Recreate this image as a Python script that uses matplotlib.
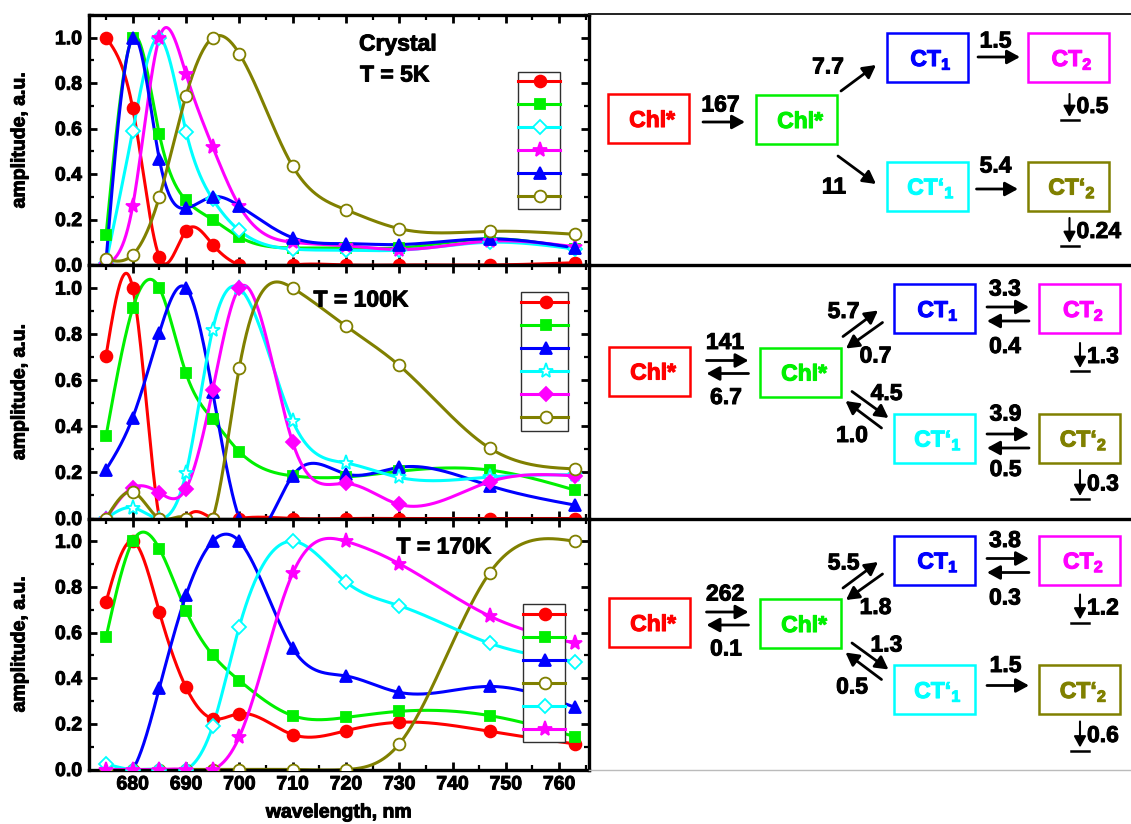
import numpy as np
import matplotlib
matplotlib.use("Agg")
import matplotlib.pyplot as plt
import matplotlib.patheffects as pe
from matplotlib.patches import Rectangle
from matplotlib.ticker import MultipleLocator

plt.rcParams['font.family'] = ['Liberation Sans', 'DejaVu Sans']
plt.rcParams['font.weight'] = 'bold'
plt.rcParams['mathtext.fontset'] = 'custom'
plt.rcParams['mathtext.rm'] = 'Liberation Sans:bold'
plt.rcParams['mathtext.bf'] = 'Liberation Sans:bold'
plt.rcParams['mathtext.it'] = 'Liberation Sans:bold'

# ---------------- data ----------------
wavelength = [675, 680, 685, 690, 695, 700, 710, 720, 730, 747, 763]

# T = 5K (crystal)
red_5K = [1.0, 0.69, 0.035, 0.15, 0.09, 0.0, 0.0, 0.0, 0.0, 0.0, 0.01]
green_5K = [0.13, 1.0, 0.575, 0.285, 0.2, 0.123, 0.075, 0.075, 0.075, 0.115, 0.07]
cyan_5K = [0.01, 0.59, 1.0, 0.587, 0.29, 0.152, 0.07, 0.065, 0.065, 0.10, 0.07]
magenta_5K = [0.0, 0.26, 1.0, 0.84, 0.52, 0.26, 0.10, 0.085, 0.068, 0.105, 0.08]
blue_5K = [0.02, 1.0, 0.465, 0.25, 0.30, 0.26, 0.12, 0.094, 0.09, 0.115, 0.075]
olive_5K = [0.025, 0.045, 0.30, 0.745, 1.0, 0.93, 0.435, 0.243, 0.16, 0.148, 0.135]

# T = 100K
red_100K = [0.707, 1.0, 0.0, 0.0, 0.0, 0.0, 0.0, 0.0, 0.0, 0.0, 0.0]
green_100K = [0.358, 0.912, 1.0, 0.63, 0.43, 0.29, 0.185, 0.18, 0.205, 0.21, 0.123]
blue_100K = [0.212, 0.438, 0.806, 1.0, 0.55, 0.0, 0.185, 0.193, 0.222, 0.142, 0.058]
cyan_100K = [0.0, 0.047, 0.0, 0.197, 0.82, 1.0, 0.423, 0.241, 0.178, 0.18, 0.19]
magenta_100K = [0.0, 0.134, 0.112, 0.13, 0.557, 1.0, 0.331, 0.152, 0.061, 0.16, 0.185]
olive_100K = [0.0, 0.115, 0.0, 0.0, 0.0, 0.655, 1.0, 0.835, 0.664, 0.305, 0.215]

# T = 170K
red_170K = [0.735, 1.0, 0.69, 0.36, 0.223, 0.245, 0.153, 0.17, 0.207, 0.167, 0.112]
green_170K = [0.58, 1.0, 0.968, 0.696, 0.502, 0.39, 0.236, 0.228, 0.255, 0.236, 0.144]
blue_170K = [0.0, 0.0, 0.357, 0.764, 1.0, 1.0, 0.531, 0.41, 0.338, 0.364, 0.272]
olive_170K = [0.0, 0.0, 0.0, 0.0, 0.0, 0.0, 0.0, 0.0, 0.112, 0.863, 1.0]
cyan_170K = [0.025, 0.0, 0.0, 0.0, 0.19, 0.626, 1.0, 0.822, 0.718, 0.553, 0.473]
magenta_170K = [0.0, 0.0, 0.0, 0.0, 0.0, 0.143, 0.859, 1.0, 0.902, 0.672, 0.553]

panel_titles = ["Crystal\nT = 5K", "T = 100K", "T = 170K"]
x_ticks = [680, 690, 700, 710, 720, 730, 740, 750, 760]
y_ticks = [0.0, 0.2, 0.4, 0.6, 0.8, 1.0]

# kinetic scheme rate constants
rates_5K = {"fwd": "167", "up": "7.7", "down": "11", "ct": "1.5", "ctp": "5.4",
            "dec": "0.5", "decp": "0.24"}
rates_100K = {"fwd": "141", "back": "6.7", "up": "5.7", "upb": "0.7", "down": "4.5",
              "downb": "1.0", "ct": "3.3", "ctb": "0.4", "ctp": "3.9", "ctpb": "0.5",
              "dec": "1.3", "decp": "0.3"}
rates_170K = {"fwd": "262", "back": "0.1", "up": "5.5", "upb": "1.8", "down": "1.3",
              "downb": "0.5", "ct": "3.8", "ctb": "0.3", "ctp": "1.5",
              "dec": "1.2", "decp": "0.6"}

# ---------------- styles ----------------
RED, GREEN, BLUE = '#FF0000', '#00F000', '#0000FF'
CYAN, MAGENTA, OLIVE = '#00FFFF', '#FF00FF', '#808000'

sty = {
    'red': dict(color=RED, marker='o', mfc=RED, ms=8.5),
    'green': dict(color=GREEN, marker='s', mfc=GREEN, ms=7.5),
    'blue': dict(color=BLUE, marker='^', mfc=BLUE, ms=9),
    'cyan_D': dict(color=CYAN, marker='D', mfc='white', ms=7),
    'cyan_star': dict(color=CYAN, marker='*', mfc='white', ms=11),
    'magenta_star': dict(color=MAGENTA, marker='*', mfc=MAGENTA, ms=11),
    'magenta_D': dict(color=MAGENTA, marker='D', mfc=MAGENTA, ms=7),
    'olive': dict(color=OLIVE, marker='o', mfc='white', ms=8.5),
}

panels = [
    [(red_5K, 'red'), (green_5K, 'green'), (cyan_5K, 'cyan_D'),
     (magenta_5K, 'magenta_star'), (blue_5K, 'blue'), (olive_5K, 'olive')],
    [(red_100K, 'red'), (green_100K, 'green'), (blue_100K, 'blue'),
     (cyan_100K, 'cyan_star'), (magenta_100K, 'magenta_D'), (olive_100K, 'olive')],
    [(red_170K, 'red'), (green_170K, 'green'), (blue_170K, 'blue'),
     (olive_170K, 'olive'), (cyan_170K, 'cyan_D'), (magenta_170K, 'magenta_star')],
]


def natural_spline(x, y, xs):
    x = np.asarray(x, float)
    y = np.asarray(y, float)
    n = len(x)
    h = np.diff(x)
    A = np.zeros((n, n))
    b = np.zeros(n)
    A[0, 0] = 1
    A[-1, -1] = 1
    for i in range(1, n - 1):
        A[i, i - 1] = h[i - 1]
        A[i, i] = 2 * (h[i - 1] + h[i])
        A[i, i + 1] = h[i]
        b[i] = 3 * ((y[i + 1] - y[i]) / h[i] - (y[i] - y[i - 1]) / h[i - 1])
    c = np.linalg.solve(A, b)
    bc = (y[1:] - y[:-1]) / h - h * (2 * c[:-1] + c[1:]) / 3
    d = (c[1:] - c[:-1]) / (3 * h)
    idx = np.clip(np.searchsorted(x, xs) - 1, 0, n - 2)
    dx = xs - x[idx]
    return y[idx] + bc[idx] * dx + c[idx] * dx ** 2 + d[idx] * dx ** 3


W, H = 1131, 824
fig = plt.figure(figsize=(W / 100, H / 100), dpi=100)

TK = 14      # tick label size
LAB = 14     # axis label size
heavy = [pe.withStroke(linewidth=0.7, foreground='black')]

rows_px = [(15, 265), (265, 518.5), (518.5, 769.5)]
L_px, R_px = 89, 589

xs = np.linspace(wavelength[0], wavelength[-1], 800)
for r, (top, bot) in enumerate(rows_px):
    ax = fig.add_axes([L_px / W, 1 - bot / H, (R_px - L_px) / W, (bot - top) / H])
    for vals, key in panels[r]:
        s = sty[key]
        ax.plot(xs, natural_spline(wavelength, vals, xs), color=s['color'], lw=2.2,
                zorder=2)
        ax.plot(wavelength, vals, ls='none', marker=s['marker'], ms=s['ms'],
                mfc=s['mfc'], mec=s['color'], mew=1.3, zorder=3)
    ax.set_xlim(671.8, 765.6)
    ax.set_ylim(0, 1.1)
    ax.set_xticks(x_ticks)
    ax.set_yticks(y_ticks)
    ax.xaxis.set_minor_locator(MultipleLocator(5))
    ax.yaxis.set_minor_locator(MultipleLocator(0.1))
    ax.tick_params(which='both', direction='in', top=True, right=True,
                   labelsize=TK, pad=5)
    ax.tick_params(which='major', length=6, width=2)
    ax.tick_params(which='minor', length=3.5, width=1.6)
    for lab in ax.get_xticklabels() + ax.get_yticklabels():
        lab.set_fontweight('bold')
        lab.set_path_effects(heavy)
    if r < 2:
        ax.tick_params(labelbottom=False)
    for sp in ax.spines.values():
        sp.set_linewidth(2.4)
    fig.text(20 / W, 1 - (top + bot) / 2 / H, 'amplitude, a.u.', rotation=90,
             ha='center', va='center', fontsize=LAB, fontweight='bold',
             path_effects=heavy)

fig.text(339 / W, 1 - 813 / H, 'wavelength, nm', ha='center', va='center',
         fontsize=LAB, fontweight='bold', path_effects=heavy)

# ---------------- overlay in pixel coordinates ----------------
ov = fig.add_axes([0, 0, 1, 1], zorder=10)
ov.set_xlim(0, W)
ov.set_ylim(H, 0)
ov.axis('off')
ov.patch.set_alpha(0)

ov.plot([R_px, W], [13.5, 13.5], color='#202020', lw=1.4)
ov.plot([R_px, W], [265, 265], color='k', lw=2.4)
ov.plot([R_px, W], [518.5, 518.5], color='k', lw=2.4)
ov.plot([R_px, W], [770, 770], color='#bbbbbb', lw=1.0)

TT = 16.5
ov.text(359, 44, 'Crystal', ha='left', va='center', fontsize=TT, fontweight='bold',
        path_effects=heavy)
ov.text(360, 75, 'T = 5K', ha='left', va='center', fontsize=TT, fontweight='bold',
        path_effects=heavy)
ov.text(361, 300, panel_titles[1], ha='center', va='center', fontsize=TT,
        fontweight='bold', path_effects=heavy)
ov.text(444, 547, panel_titles[2], ha='center', va='center', fontsize=TT,
        fontweight='bold', path_effects=heavy)

legend_boxes = [(518, 560, 72, 209), (521, 568, 292, 431), (523, 565, 604, 742)]
for r, (x0, x1, y0, y1) in enumerate(legend_boxes):
    ov.add_patch(Rectangle((x0, y0), x1 - x0, y1 - y0, facecolor='white',
                           edgecolor='#303030', lw=1.0, zorder=1))
    n = len(panels[r])
    step = (y1 - y0) / n
    for i, (vals, key) in enumerate(panels[r]):
        s = sty[key]
        yy = y0 + step * (i + 0.5) - 2
        ov.plot([x0, x1], [yy, yy], color=s['color'], lw=2.2, zorder=2)
        ov.plot([(x0 + x1) / 2 + 1], [yy], ls='none', marker=s['marker'], ms=s['ms'],
                mfc=s['mfc'], mec=s['color'], mew=1.3, zorder=3)

# ---------------- kinetic schemes ----------------
BW, BH = 81, 49
FS = 16.5


def box(cx, cy, label, color):
    ov.add_patch(Rectangle((cx - BW / 2, cy - BH / 2), BW, BH, facecolor='white',
                           edgecolor=color, lw=1.8, zorder=2))
    ov.text(cx + 4, cy + 2, label, color=color, ha='center', va='center',
            fontsize=FS, fontweight='bold', zorder=3,
            path_effects=[pe.withStroke(linewidth=0.8, foreground=color)])


def arrow(p0, p1, lw=2.0, ms=14):
    ov.annotate('', xy=p1, xytext=p0, zorder=4,
                arrowprops=dict(arrowstyle='-|>,head_length=0.55,head_width=0.3',
                                lw=lw, color='k', shrinkA=0, shrinkB=0,
                                mutation_scale=ms))


def num(x, y, s, ha='center'):
    ov.text(x, y, s, ha=ha, va='center', fontsize=FS, fontweight='bold', zorder=5,
            path_effects=heavy)


def decay(x, y0, y1, s):
    arrow((x, y0), (x, y1), lw=1.5, ms=12)
    ov.plot([x - 9, x + 9], [y1 + 3, y1 + 3], color='k', lw=1.8)
    num(x + 7, (y0 + y1) / 2 + 1, s, ha='left')


chl = r'Chl*'
ct1 = r'$\mathrm{CT_1}$'
ct2 = r'$\mathrm{CT_2}$'
ctp1 = r'$\mathrm{CT‘_1}$'
ctp2 = r'$\mathrm{CT‘_2}$'

# row 1: crystal, 5K
rt = rates_5K
box(648, 118.5, chl, RED)
box(796, 119.5, chl, GREEN)
box(927, 57.5, ct1, BLUE)
box(1068, 57.5, ct2, MAGENTA)
box(927, 186, ctp1, CYAN)
box(1068, 186, ctp2, OLIVE)
num(720.5, 105, rt['fwd']); arrow((703, 122), (745, 122))
num(828, 67, rt['up']); arrow((841, 91), (876, 65))
num(834, 187, rt['down']); arrow((838, 156), (876, 184))
num(995.5, 41, rt['ct']); arrow((978, 57), (1020, 57))
num(995.5, 166, rt['ctp']); arrow((976.5, 189), (1018, 189))
decay(1069.5, 94, 117, rt['dec'])
decay(1069.5, 218, 243, rt['decp'])

# rows 2 and 3: 100K and 170K
for rt, dy in [(rates_100K, 0.0), (rates_170K, 251.5)]:
    box(649, 371 + dy, chl, RED)
    box(800, 372 + dy, chl, GREEN)
    box(934, 308.5 + dy, ct1, BLUE)
    box(1079.5, 308.5 + dy, ct2, MAGENTA)
    box(934, 438 + dy, ctp1, CYAN)
    box(1079.5, 438 + dy, ctp2, OLIVE)
    num(725, 342.5 + dy, rt['fwd'])
    arrow((706.5, 360.5 + dy), (748.5, 360.5 + dy))
    arrow((748.5, 373.5 + dy), (706.5, 373.5 + dy))
    num(726, 397.5 + dy, rt['back'])
    num(843.5, 311.5 + dy, rt['up'])
    arrow((843, 336.5 + dy), (878, 310.5 + dy))
    arrow((882.5, 322.5 + dy), (846, 348.5 + dy))
    num(875.5, 356 + dy, rt['upb'])
    num(886.5, 393.5 + dy, rt['down'])
    arrow((852, 391.5 + dy), (888.5, 418 + dy))
    arrow((881.5, 428 + dy), (845.5, 401 + dy))
    num(852, 435.5 + dy, rt['downb'])
    num(1005, 289 + dy, rt['ct'])
    arrow((987, 307 + dy), (1029, 307 + dy))
    arrow((1029, 321 + dy), (987, 321 + dy))
    num(1005, 346.5 + dy, rt['ctb'])
    num(1005.5, 414 + dy, rt['ctp'])
    arrow((987, 434 + dy), (1029, 434 + dy))
    if 'ctpb' in rt:
        arrow((1029, 448 + dy), (987, 448 + dy))
        num(1005.5, 469.5 + dy, rt['ctpb'])
    decay(1080, 343 + dy, 368 + dy, rt['dec'])
    decay(1080, 470 + dy, 496 + dy, rt['decp'])

fig.savefig('out.png', dpi=100)
